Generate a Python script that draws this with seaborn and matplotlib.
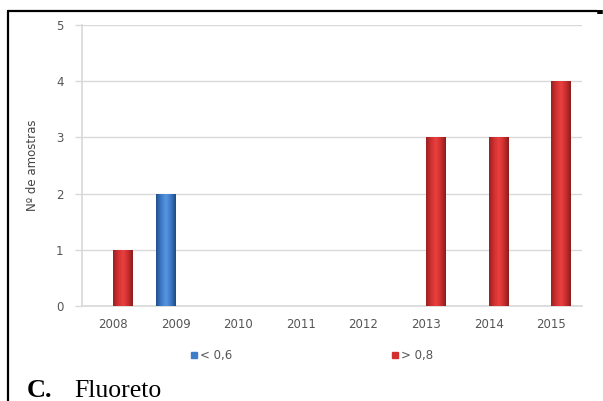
import numpy as np
import pandas as pd
import matplotlib
matplotlib.use("Agg")
import matplotlib.pyplot as plt
from matplotlib.colors import LinearSegmentedColormap
from matplotlib.lines import Line2D
import seaborn as sns

# Samples per year, split by fluoride concentration class
years = ["2008", "2009", "2010", "2011", "2012", "2013", "2014", "2015"]
low_counts = [0, 2, 0, 0, 0, 0, 0, 0]     # < 0,6
high_counts = [1, 0, 0, 0, 0, 3, 3, 4]    # > 0,8
classes = ["< 0,6", "> 0,8"]
class_colors = ["#3f7cc9", "#d23030"]
y_ticks = [0, 1, 2, 3, 4, 5]

df = pd.DataFrame({
    "ano": years * 2,
    "classe": [classes[0]] * len(years) + [classes[1]] * len(years),
    "n": low_counts + high_counts,
})

sns.set_theme(style="white")
plt.rcParams["font.family"] = ["DejaVu Sans"]

fig = plt.figure(figsize=(6.03, 4.01), dpi=100)
ax = fig.add_axes([0.1355, 0.237, 0.8305, 0.701])

sns.barplot(data=df, x="ano", y="n", hue="classe", hue_order=classes,
            palette=class_colors, width=0.62, linewidth=0, saturation=1,
            legend=False, ax=ax)

# cylinder-like shading across each bar
shades = {
    "#3f7cc9": ["#22508c", "#3b79c6", "#5a97e0", "#3b79c6", "#1f4a82"],
    "#d23030": ["#9a2020", "#d03030", "#ea4040", "#cc2e2e", "#8a1c1c"],
}
for patch in list(ax.patches):
    h = patch.get_height()
    if h <= 0:
        continue
    fc = np.array(matplotlib.colors.to_rgb(patch.get_facecolor()))
    key = min(shades, key=lambda k: np.sum(np.abs(np.array(matplotlib.colors.to_rgb(k)) - fc)))
    cmap = LinearSegmentedColormap.from_list("bar", shades[key])
    x0 = patch.get_x()
    w = patch.get_width()
    grad = np.linspace(0, 1, 64).reshape(1, -1)
    im = ax.imshow(grad, cmap=cmap, aspect="auto", extent=(x0, x0 + w, 0, h),
                   zorder=3, interpolation="bicubic")
    im.set_clip_path(patch)

ax.set_xlim(-0.5, len(years) - 0.5)
ax.set_ylim(0, 5)
ax.set_yticks(y_ticks)
ax.set_yticklabels([str(t) for t in y_ticks])
ax.yaxis.grid(True, color="#d9d9d9", linewidth=1)
ax.xaxis.grid(False)
ax.set_axisbelow(True)

for side in ["top", "right"]:
    ax.spines[side].set_visible(False)
ax.spines["left"].set_color("#d9d9d9")
ax.spines["bottom"].set_color("#d9d9d9")
ax.tick_params(axis="y", length=5, width=1, color="#d9d9d9", labelsize=8.5,
               labelcolor="#555555", pad=8, left=True)
ax.tick_params(axis="x", length=0, labelsize=8.5, labelcolor="#555555", pad=9)
ax.set_xlabel("")
ax.set_ylabel("Nº de amostras", fontsize=8.5, color="#444444", labelpad=12)

handles = [Line2D([0], [0], marker="s", linestyle="none", markersize=5,
                  markerfacecolor=c, markeredgecolor=c) for c in class_colors]
fig.legend(handles, classes, loc="center", bbox_to_anchor=(0.517, 0.113),
           ncol=2, frameon=False, fontsize=8.5, handlelength=0.6,
           handletextpad=0.2, columnspacing=13.5, labelcolor="#555555")

# panel caption
fig.text(0.045, 0.009, "C.", fontsize=19, fontweight="bold",
         family=["Liberation Serif"], color="black", va="baseline")
fig.text(0.124, 0.009, "Fluoreto", fontsize=18.5,
         family=["Liberation Serif"], color="black", va="baseline")

# frame of the surrounding table cell
fig.add_artist(Line2D([7.5 / 603, 597 / 603], [1 - 10.5 / 401, 1 - 10.5 / 401],
                      transform=fig.transFigure, color="black", linewidth=1.6))
fig.add_artist(Line2D([7.5 / 603, 7.5 / 603], [0, 1 - 10.5 / 401],
                      transform=fig.transFigure, color="black", linewidth=1.6))
fig.add_artist(Line2D([600 / 603, 600 / 603], [1 - 9.5 / 401, 1 - 13.5 / 401],
                      transform=fig.transFigure, color="black", linewidth=4,
                      solid_capstyle="butt"))

fig.savefig("out.png", dpi=100)
